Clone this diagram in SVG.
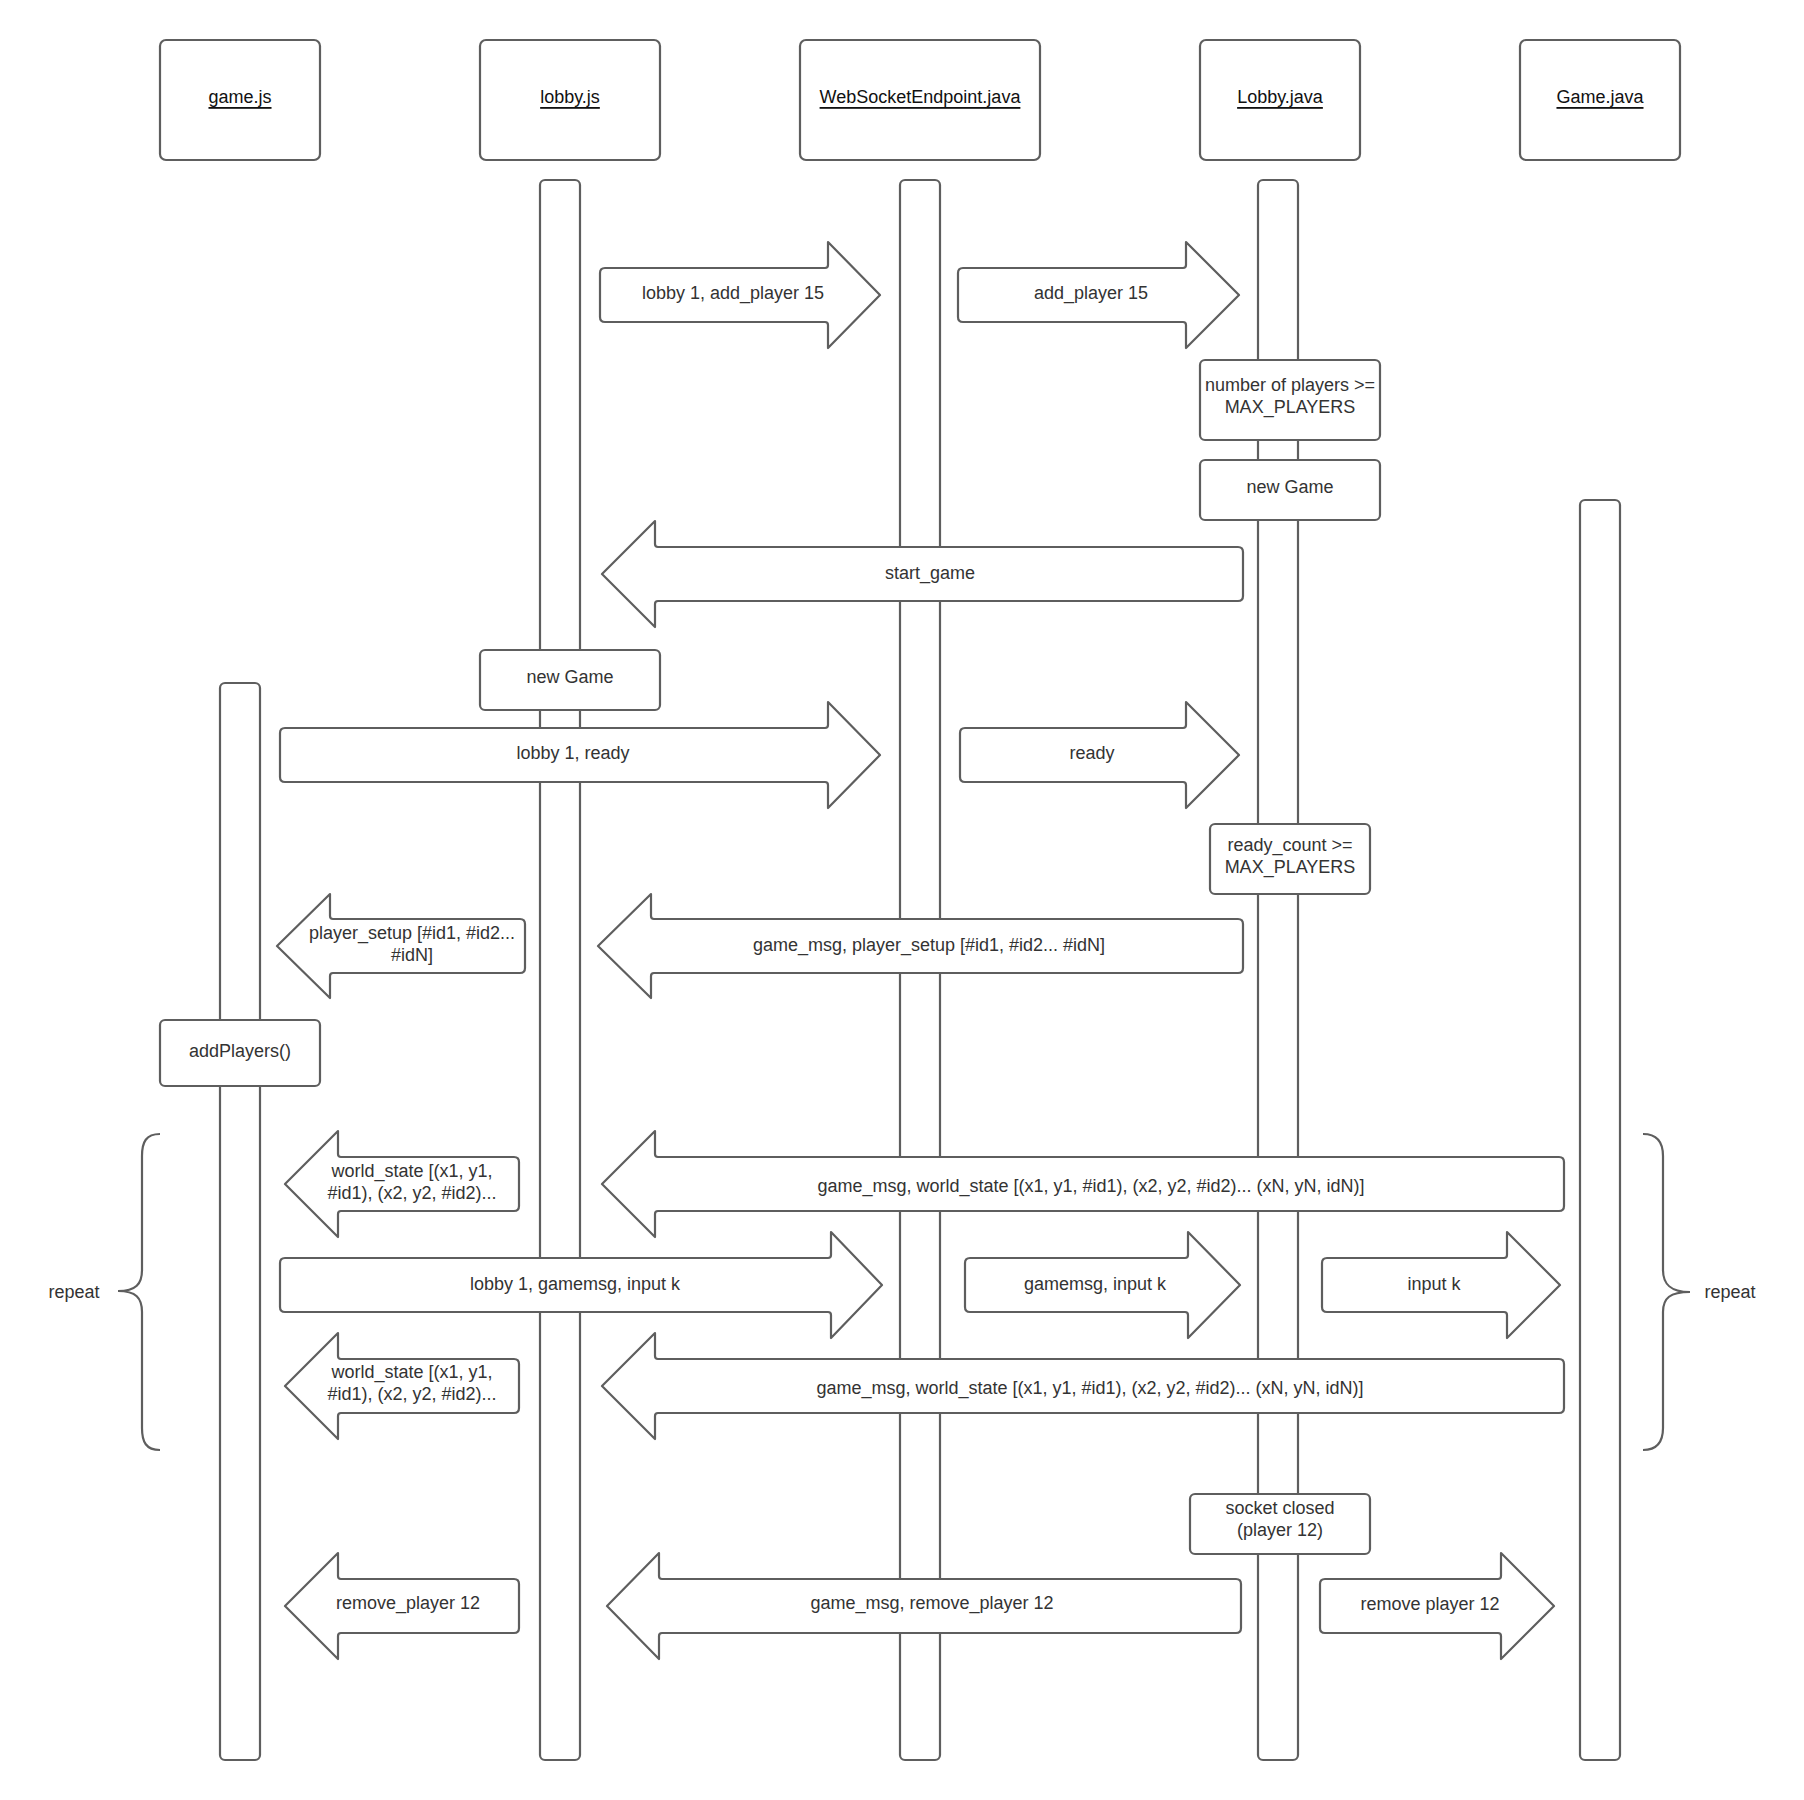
<svg xmlns="http://www.w3.org/2000/svg" width="1804" height="1800" viewBox="0 0 1804 1800">
<style>
.s{fill:#ffffff;stroke:#5e5e5e;stroke-width:2.2;stroke-linejoin:round}
.b{fill:none;stroke:#5e5e5e;stroke-width:2.2}
text{font-family:"Liberation Sans",Arial,sans-serif;font-size:18px;fill:#333333;text-anchor:middle;dominant-baseline:central}
.h{text-decoration:underline;fill:#111111}
</style>
<rect width="1804" height="1800" fill="#ffffff"/>
<g id="p-gamejs">
<rect class="s" x="160" y="40" width="160" height="120" rx="6"/>
<text class="h" x="240" y="97">game.js</text>
<rect class="s" x="220" y="683" width="40" height="1077" rx="5"/>
</g>
<g id="p-lobbyjs">
<rect class="s" x="480" y="40" width="180" height="120" rx="6"/>
<text class="h" x="570" y="97">lobby.js</text>
<rect class="s" x="540" y="180" width="40" height="1580" rx="5"/>
</g>
<g id="p-ws">
<rect class="s" x="800" y="40" width="240" height="120" rx="6"/>
<text class="h" x="920" y="97">WebSocketEndpoint.java</text>
<rect class="s" x="900" y="180" width="40" height="1580" rx="5"/>
</g>
<g id="p-lobbyjava">
<rect class="s" x="1200" y="40" width="160" height="120" rx="6"/>
<text class="h" x="1280" y="97">Lobby.java</text>
<rect class="s" x="1258" y="180" width="40" height="1580" rx="5"/>
</g>
<g id="p-gamejava">
<rect class="s" x="1520" y="40" width="160" height="120" rx="6"/>
<text class="h" x="1600" y="97">Game.java</text>
<rect class="s" x="1580" y="500" width="40" height="1260" rx="5"/>
</g>
<g id="connectors">
<g id="m1"><path class="s" d="M605,268 H825 Q828,268 828,265 V242 L880,295 L828,348 V325 Q828,322 825,322 H605 Q600,322 600,317 V273 Q600,268 605,268 Z"/><text x="733" y="293">lobby 1, add_player 15</text></g>
<g id="m2"><path class="s" d="M963,268 H1183 Q1186,268 1186,265 V242 L1239,295 L1186,348 V325 Q1186,322 1183,322 H963 Q958,322 958,317 V273 Q958,268 963,268 Z"/><text x="1091" y="293">add_player 15</text></g>
<g id="m3"><path class="s" d="M1238,547 H658 Q655,547 655,544 V521 L602,574 L655,627 V604 Q655,601 658,601 H1238 Q1243,601 1243,596 V552 Q1243,547 1238,547 Z"/><text x="930" y="573">start_game</text></g>
<g id="m4"><path class="s" d="M285,728 H825 Q828,728 828,725 V702 L880,755 L828,808 V785 Q828,782 825,782 H285 Q280,782 280,777 V733 Q280,728 285,728 Z"/><text x="573" y="753">lobby 1, ready</text></g>
<g id="m5"><path class="s" d="M965,728 H1183 Q1186,728 1186,725 V702 L1239,755 L1186,808 V785 Q1186,782 1183,782 H965 Q960,782 960,777 V733 Q960,728 965,728 Z"/><text x="1092" y="753">ready</text></g>
<g id="m6"><path class="s" d="M520,919 H333 Q330,919 330,916 V894 L277,946 L330,998 V976 Q330,973 333,973 H520 Q525,973 525,968 V924 Q525,919 520,919 Z"/><text x="412" y="933">player_setup [#id1, #id2...</text><text x="412" y="955">#idN]</text></g>
<g id="m7"><path class="s" d="M1238,919 H654 Q651,919 651,916 V894 L598,946 L651,998 V976 Q651,973 654,973 H1238 Q1243,973 1243,968 V924 Q1243,919 1238,919 Z"/><text x="929" y="945">game_msg, player_setup [#id1, #id2... #idN]</text></g>
<g id="m8"><path class="s" d="M514,1157 H341 Q338,1157 338,1154 V1131 L285,1184 L338,1237 V1214 Q338,1211 341,1211 H514 Q519,1211 519,1206 V1162 Q519,1157 514,1157 Z"/><text x="412" y="1171">world_state [(x1, y1,</text><text x="412" y="1193">#id1), (x2, y2, #id2)...</text></g>
<g id="m9"><path class="s" d="M1559,1157 H658 Q655,1157 655,1154 V1131 L602,1184 L655,1237 V1214 Q655,1211 658,1211 H1559 Q1564,1211 1564,1206 V1162 Q1564,1157 1559,1157 Z"/><text x="1091" y="1186">game_msg, world_state [(x1, y1, #id1), (x2, y2, #id2)... (xN, yN, idN)]</text></g>
<g id="m10"><path class="s" d="M285,1258 H828 Q831,1258 831,1255 V1232 L882,1285 L831,1338 V1315 Q831,1312 828,1312 H285 Q280,1312 280,1307 V1263 Q280,1258 285,1258 Z"/><text x="575" y="1284">lobby 1, gamemsg, input k</text></g>
<g id="m11"><path class="s" d="M970,1258 H1185 Q1188,1258 1188,1255 V1232 L1240,1285 L1188,1338 V1315 Q1188,1312 1185,1312 H970 Q965,1312 965,1307 V1263 Q965,1258 970,1258 Z"/><text x="1095" y="1284">gamemsg, input k</text></g>
<g id="m12"><path class="s" d="M1327,1258 H1504 Q1507,1258 1507,1255 V1232 L1560,1285 L1507,1338 V1315 Q1507,1312 1504,1312 H1327 Q1322,1312 1322,1307 V1263 Q1322,1258 1327,1258 Z"/><text x="1434" y="1284">input k</text></g>
<g id="m13"><path class="s" d="M514,1359 H341 Q338,1359 338,1356 V1333 L285,1386 L338,1439 V1416 Q338,1413 341,1413 H514 Q519,1413 519,1408 V1364 Q519,1359 514,1359 Z"/><text x="412" y="1372">world_state [(x1, y1,</text><text x="412" y="1394">#id1), (x2, y2, #id2)...</text></g>
<g id="m14"><path class="s" d="M1559,1359 H658 Q655,1359 655,1356 V1333 L602,1386 L655,1439 V1416 Q655,1413 658,1413 H1559 Q1564,1413 1564,1408 V1364 Q1564,1359 1559,1359 Z"/><text x="1090" y="1388">game_msg, world_state [(x1, y1, #id1), (x2, y2, #id2)... (xN, yN, idN)]</text></g>
<g id="m15"><path class="s" d="M514,1579 H341 Q338,1579 338,1576 V1553 L285,1606 L338,1659 V1636 Q338,1633 341,1633 H514 Q519,1633 519,1628 V1584 Q519,1579 514,1579 Z"/><text x="408" y="1603">remove_player 12</text></g>
<g id="m16"><path class="s" d="M1236,1579 H662 Q659,1579 659,1576 V1553 L607,1606 L659,1659 V1636 Q659,1633 662,1633 H1236 Q1241,1633 1241,1628 V1584 Q1241,1579 1236,1579 Z"/><text x="932" y="1603">game_msg, remove_player 12</text></g>
<g id="m17"><path class="s" d="M1325,1579 H1498 Q1501,1579 1501,1576 V1553 L1554,1606 L1501,1659 V1636 Q1501,1633 1498,1633 H1325 Q1320,1633 1320,1628 V1584 Q1320,1579 1325,1579 Z"/><text x="1430" y="1604">remove player 12</text></g>
</g>
<g id="n-players-check">
<rect class="s" x="1200" y="360" width="180" height="80" rx="5"/>
<text x="1290" y="385">number of players &gt;=</text>
<text x="1290" y="407">MAX_PLAYERS</text>
</g>
<g id="n-newgame-lobby">
<rect class="s" x="1200" y="460" width="180" height="60" rx="5"/>
<text x="1290" y="487">new Game</text>
</g>
<g id="n-newgame-js">
<rect class="s" x="480" y="650" width="180" height="60" rx="5"/>
<text x="570" y="677">new Game</text>
</g>
<g id="n-ready-check">
<rect class="s" x="1210" y="824" width="160" height="70" rx="5"/>
<text x="1290" y="845">ready_count &gt;=</text>
<text x="1290" y="867">MAX_PLAYERS</text>
</g>
<g id="n-addplayers">
<rect class="s" x="160" y="1020" width="160" height="66" rx="5"/>
<text x="240" y="1051">addPlayers()</text>
</g>
<g id="n-socket-closed">
<rect class="s" x="1190" y="1494" width="180" height="60" rx="5"/>
<text x="1280" y="1508">socket closed</text>
<text x="1280" y="1530">(player 12)</text>
</g>
<g id="repeat-left">
<path class="b" d="M160,1134 C146,1134 142,1142 142,1156 V1270 C142,1284 136,1291 118,1291 C136,1291 142,1298 142,1312 V1428 C142,1442 146,1450 160,1450"/>
<text x="74" y="1292">repeat</text>
</g>
<g id="repeat-right">
<path class="b" d="M1643,1134 C1657,1134 1663,1142 1663,1156 V1270 C1663,1284 1670,1292 1690,1292 C1670,1292 1663,1298 1663,1312 V1428 C1663,1442 1657,1450 1643,1450"/>
<text x="1730" y="1292">repeat</text>
</g>
</svg>
